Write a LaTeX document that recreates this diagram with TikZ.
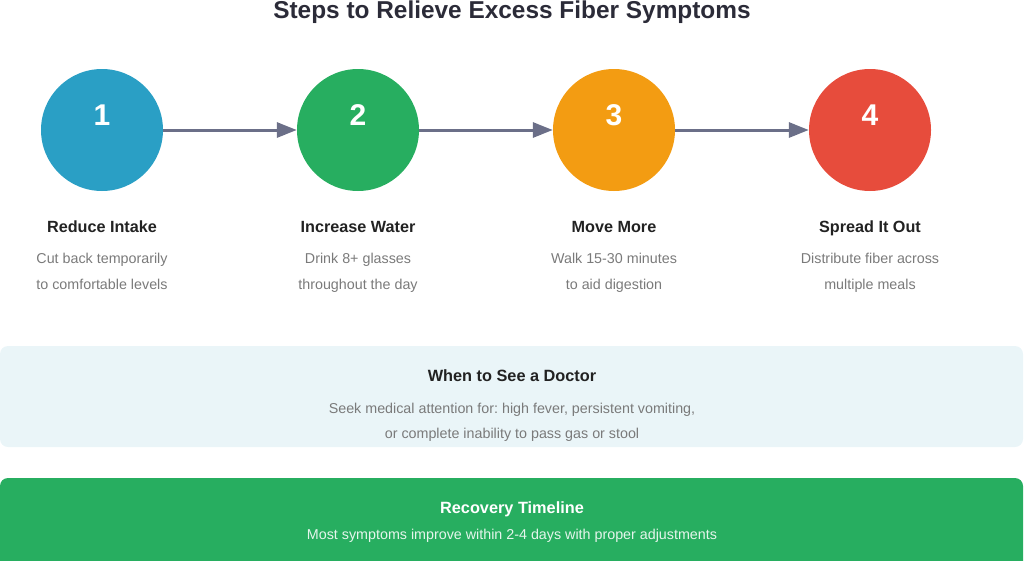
\documentclass[tikz,border=0pt]{standalone}
\usepackage{fontspec}
\setmainfont{Liberation Sans}
\usetikzlibrary{arrows.meta}
\frenchspacing
\definecolor{cblue}{HTML}{2A9FC5}
\definecolor{cgreen}{HTML}{27AE60}
\definecolor{corange}{HTML}{F39C12}
\definecolor{cred}{HTML}{E74C3C}
\definecolor{arrowc}{HTML}{6B6F88}
\definecolor{titlec}{HTML}{2B2B38}
\definecolor{headc}{HTML}{222222}
\definecolor{descc}{HTML}{7A7A7A}
\definecolor{panelc}{HTML}{EAF5F8}
\tikzset{
  stepcirc/.style={circle, minimum size=122pt, inner sep=0pt},
  stepnum/.style={text=white, font=\fontsize{30}{32}\selectfont\bfseries},
  stephead/.style={anchor=base, font=\fontsize{16.2}{18}\selectfont\bfseries, text=headc},
  stepdesc/.style={anchor=base, font=\fontsize{14.3}{16}\selectfont, text=descc},
  flow/.style={draw=arrowc, line width=3pt, -{Triangle[length=20pt,width=15pt]}},
  panel/.style={rounded corners=8pt},
}
\begin{document}
\begin{tikzpicture}[x=1pt,y=-1pt]
\useasboundingbox (0,0) rectangle (1024,560);
\node[anchor=base, font=\fontsize{24.4}{26}\selectfont\bfseries, text=titlec] (title) at (512,18) {Steps to Relieve Excess Fiber Symptoms};

\node[stepcirc, fill=cblue] (c1) at (102,130) {};
\node[stepcirc, fill=cgreen] (c2) at (358,130) {};
\node[stepcirc, fill=corange] (c3) at (614,130) {};
\node[stepcirc, fill=cred] (c4) at (870,130) {};
\node[stepnum] (n1) at (102,115) {1};
\node[stepnum] (n2) at (358,115) {2};
\node[stepnum] (n3) at (614,115) {3};
\node[stepnum] (n4) at (870,115) {4};

\draw[flow] (c1) -- (c2);
\draw[flow] (c2) -- (c3);
\draw[flow] (c3) -- (c4);

\node[stephead] (h1) at (102,232) {Reduce Intake};
\node[stephead] (h2) at (358,232) {Increase Water};
\node[stephead] (h3) at (614,232) {Move More};
\node[stephead] (h4) at (870,232) {Spread It Out};

\node[stepdesc] (d1a) at (102,263) {Cut back temporarily};
\node[stepdesc] (d1b) at (102,289) {to comfortable levels};
\node[stepdesc] (d2a) at (358,263) {Drink 8+ glasses};
\node[stepdesc] (d2b) at (358,289) {throughout the day};
\node[stepdesc] (d3a) at (614,263) {Walk 15-30 minutes};
\node[stepdesc] (d3b) at (614,289) {to aid digestion};
\node[stepdesc] (d4a) at (870,263) {Distribute fiber across};
\node[stepdesc] (d4b) at (870,289) {multiple meals};

\fill[panel, panelc] (0,346) rectangle (1023,447);
\node[anchor=base, font=\fontsize{16.3}{18}\selectfont\bfseries, text=headc] (dh) at (512,381) {When to See a Doctor};
\node[stepdesc] (dt1) at (512,413) {Seek medical attention for: high fever, persistent vomiting,};
\node[stepdesc] (dt2) at (512,438) {or complete inability to pass gas or stool};

\fill[panel, cgreen] (0,478) rectangle (1023,572);
\node[anchor=base, font=\fontsize{16.3}{18}\selectfont\bfseries, text=white] (rh) at (512,513) {Recovery Timeline};
\node[anchor=base, font=\fontsize{14.3}{16}\selectfont, text=white!88!cgreen] (rt) at (512,539) {Most symptoms improve within 2-4 days with proper adjustments};
\end{tikzpicture}
\end{document}
